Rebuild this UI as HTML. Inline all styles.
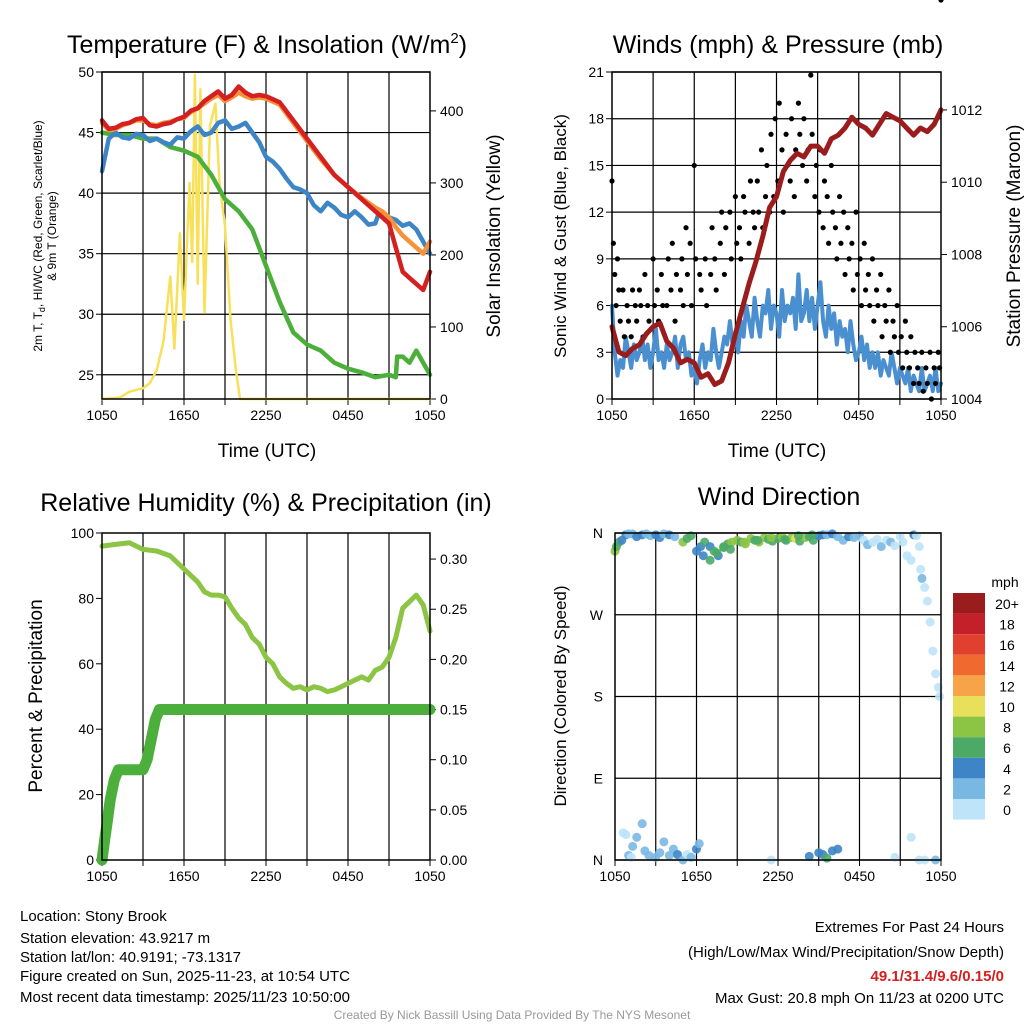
<!DOCTYPE html>
<html><head><meta charset="utf-8">
<style>
body{margin:0;background:#fff;}
svg{display:block;font-family:"Liberation Sans",sans-serif;}
</style></head>
<body>
<svg id="c" width="1024" height="1024" viewBox="0 0 1024 1024" xmlns="http://www.w3.org/2000/svg">
<rect width="1024" height="1024" fill="#fff"/>
<g id="g"></g>
<text x="267" y="53" font-size="25" text-anchor="middle">Temperature (F) &amp; Insolation (W/m<tspan font-size="15" dy="-10">2</tspan><tspan dy="10">)</tspan></text>
<text x="778" y="53" font-size="25" text-anchor="middle">Winds (mph) &amp; Pressure (mb)</text>
<text x="266" y="511" font-size="25" text-anchor="middle">Relative Humidity (%) &amp; Precipitation (in)</text>
<text x="779" y="505" font-size="25" text-anchor="middle">Wind Direction</text>
<text x="267" y="457" font-size="19" text-anchor="middle">Time (UTC)</text>
<text x="777" y="457" font-size="19" text-anchor="middle">Time (UTC)</text>
<text transform="translate(42,236) rotate(-90)" font-size="12" text-anchor="middle">2m T, T<tspan font-size="9" dy="3">d</tspan><tspan dy="-3">, HI/WC (Red, Green, Scarlet/Blue)</tspan></text>
<text transform="translate(56,236) rotate(-90)" font-size="12" text-anchor="middle">&amp; 9m T (Orange)</text>
<text transform="translate(500,236) rotate(-90)" font-size="19" text-anchor="middle">Solar Insolation (Yellow)</text>
<text transform="translate(566,236) rotate(-90)" font-size="17" text-anchor="middle">Sonic Wind &amp; Gust (Blue, Black)</text>
<text transform="translate(1020,236) rotate(-90)" font-size="19" text-anchor="middle">Station Pressure (Maroon)</text>
<text transform="translate(42,696) rotate(-90)" font-size="19" text-anchor="middle">Percent &amp; Precipitation</text>
<text transform="translate(566,696) rotate(-90)" font-size="17" text-anchor="middle">Direction (Colored By Speed)</text>
<text x="1005" y="587" font-size="14" text-anchor="middle">mph</text>
<g font-size="15">
<text x="20" y="921">Location: Stony Brook</text>
<text x="20" y="943">Station elevation: 43.9217 m</text>
<text x="20" y="962">Station lat/lon: 40.9191; -73.1317</text>
<text x="20" y="981">Figure created on Sun, 2025-11-23, at 10:54 UTC</text>
<text x="20" y="1002">Most recent data timestamp: 2025/11/23 10:50:00</text>
</g>
<g font-size="15" text-anchor="end">
<text x="1004" y="932">Extremes For Past 24 Hours</text>
<text x="1004" y="957">(High/Low/Max Wind/Precipitation/Snow Depth)</text>
<text x="1004" y="981" fill="#d42020" font-weight="bold">49.1/31.4/9.6/0.15/0</text>
<text x="1004" y="1003">Max Gust: 20.8 mph On 11/23 at 0200 UTC</text>
</g>
<text x="512" y="1019" font-size="12" fill="#999" text-anchor="middle">Created By Nick Bassill Using Data Provided By The NYS Mesonet</text>
</svg>
<script>
// ---- data (hours since 1050 UTC) ----
const xTickLabels = ["1050","1650","2250","0450","1050"];
const tempTicks = [25,30,35,40,45,50];
const insolTicks = [0,100,200,300,400];
const windTicks = [0,3,6,9,12,15,18,21];
const presTicks = [1004,1006,1008,1010,1012];
const rhTicks = [0,20,40,60,80,100];
const precipTicks = [0,0.05,0.10,0.15,0.20,0.25,0.30];
const dirLabels = ["N","E","S","W","N"];
const tempHours = [0,0.5,1,1.5,2,2.5,3,3.5,4,4.5,5,5.5,6,6.5,7,7.5,8,8.5,9,9.5,10,10.5,11,11.5,12,13,14,15,16,17,18,19,20,20.5,21,21.5,22,22.5,23,23.5,24];
const tempRed = [46,45.3,45.4,45.7,45.8,46.1,46.2,45.6,45.5,45.7,45.8,46.1,46.3,46.8,47,47.6,48,48.4,47.8,48.1,48.8,48.3,48,48.1,48,47.5,46,44.5,43,41.5,40.5,39.5,38.5,38,37.5,35.5,33.5,33,32.5,32,33.5];
const tempOrange = [45.8,45.2,45.3,45.6,45.8,46,46,45.7,45.6,45.8,45.9,46.1,46.2,46.7,47,47.4,47.8,48.1,47.6,47.9,48.3,48,47.8,47.9,47.8,47.3,45.8,44.3,42.8,41.5,40.5,39.6,38.8,38.5,38,37.2,36.5,36,35.5,35,36];
const blueHours = [0,0.5,1,1.5,2,2.5,3,3.5,4,4.5,5,5.5,6,6.5,7,7.5,8,8.5,9,9.5,10,10.5,11,11.5,12,12.5,13,13.5,14,14.5,15,15.5,16,16.5,17,17.5,18,18.5,19,19.5,20,20.3,20.6,21,21.5,22,22.5,23,23.5,24];
const tempBlue = [41.8,44.5,45,44.6,44.5,44.9,44.8,44.3,44.5,44.2,44,44.6,44.5,45.1,45.5,44.8,45,45.8,46,45.3,45.5,45.8,45,44.2,43,42.6,42,41.2,40.5,40.3,40,39,38.5,39.2,38.8,38.2,38,38.5,38,37.4,37.5,38.5,38,38,37.8,37.3,37.5,37,36,35];
const dewHours = [0,1,2,3,4,5,6,7,8,9,10,11,12,13,14,15,16,17,18,19,20,21,21.5,21.6,22,22.5,23,23.5,24];
const dewGreen = [45,44.8,44.8,44.5,44.5,43.8,43.5,43,41.5,39.5,38.5,37,34,31,28.5,27.5,27,26,25.5,25.2,24.8,25,24.8,26.5,26.5,26,27,26,25];
const insolHours = [0,1.3,2,3,3.5,4,4.5,5,5.3,5.7,6,6.4,6.6,6.8,7.0,7.2,7.5,7.9,8.3,8.6,9,9.4,9.8,10.1,24];
const insolValues = [0,2,10,15,22,40,80,170,70,230,110,300,190,450,160,430,120,380,410,300,240,110,40,0,0];
const windHours = [0,0.2,0.4,0.6,0.8,1,1.2,1.4,1.6,1.8,2,2.2,2.4,2.6,2.8,3,3.2,3.4,3.6,3.8,4,4.2,4.4,4.6,4.8,5,5.2,5.4,5.6,5.8,6,6.2,6.4,6.6,6.8,7,7.2,7.4,7.6,7.8,8,8.2,8.4,8.6,8.8,9,9.2,9.4,9.6,9.8,10,10.2,10.4,10.6,10.8,11,11.2,11.4,11.6,11.8,12,12.2,12.4,12.6,12.8,13,13.2,13.4,13.6,13.8,14,14.2,14.4,14.6,14.8,15,15.2,15.4,15.6,15.8,16,16.2,16.4,16.6,16.8,17,17.2,17.4,17.6,17.8,18,18.2,18.4,18.6,18.8,19,19.2,19.4,19.6,19.8,20,20.2,20.4,20.6,20.8,21,21.2,21.4,21.6,21.8,22,22.2,22.4,22.6,22.8,23,23.2,23.4,23.6,23.8,24];
const windSpeed = [6,3,1.5,2.5,2,4,3,2,3.5,2.5,3,4,2.5,3.5,2,3,4.5,2.5,3,2,3.5,2.5,3,4,2,3.5,4,2.5,3,1.5,2,1,2.5,3.5,2,3,2.5,4.5,3,2,3,4,3.5,5,3.5,4,3,5,4,6,5,4,6.5,5,4,6,5.5,7,4.5,6,5.5,4,7,5,6,5.5,6.5,4.5,8,5,5.5,7,5,6.5,4.5,6,7.5,5,4,6,4.5,5.5,3.5,5,4,4.5,3,5,3.5,2.5,3,4,2.5,3.5,2,3,2,3,1.5,2.5,2,1.5,3,2,1,2,1.5,1,2,0.5,1.5,1,0.5,2,0.5,1,1.5,0.5,2,0.5,1,1.5];
const gustHours = [0,0.1,0.2,0.3,0.4,0.5,0.6,0.8,0.9,1.1,1.2,1.4,1.5,1.7,1.8,2,2.1,2.3,2.4,2.6,2.7,3,3.1,3.3,3.4,3.6,3.7,4,4.1,4.3,4.4,4.6,4.7,5,5.1,5.2,5.4,5.5,5.7,5.8,6,6.1,6.4,6.5,6.8,6.9,7.2,7.3,7.5,7.6,7.9,8,8.2,8.3,8.6,8.7,9,9.1,9.3,9.4,9.6,9.7,10,10.1,10.3,10.4,10.6,10.7,10.9,11,11.2,11.3,11.5,11.6,11.8,11.9,12.1,12.2,12.4,12.5,12.7,12.8,13,13.1,13.3,13.4,13.6,13.7,13.9,14,14.2,14.3,14.5,14.6,14.8,14.9,15.1,15.2,15.4,15.5,15.7,15.8,16,16.1,16.3,16.4,16.6,16.7,16.9,17,17.2,17.3,17.5,17.6,17.8,17.9,18.1,18.2,18.4,18.5,18.7,18.8,19,19.1,19.3,19.4,19.6,19.7,19.9,20,20.2,20.3,20.5,20.6,20.8,20.9,21.1,21.2,21.4,21.5,21.7,21.8,22,22.1,22.3,22.4,22.6,22.7,22.9,23,23.2,23.3,23.5,23.6,23.8,23.9,24];
const gustSpeed = [14,10,8,6,9,7,5,7,4,6,5,4,7,6,5,7,6,4,8,6,5,9,6,7,5,8,6,6,9,7,10,5,8,7,9,6,11,8,10,6,15,9,8,7,9,6,8,11,9,7,10,12,8,11,12,9,13,10,11,9,13,12,10,14,12,11,14,12,16,11,13,15,12,17,13,18,14,19,16,12,17,15,14,18,13,16,19,17,15,18,14,16,20.8,17,13,15,12,16,11,14,13,10,15,12,11,9,13,10,12,8,11,9,10,7,12,8,9,6,10,7,8,6,9,5,7,6,8,4,6,5,7,3,5,4,6,3,4,2,5,3,2,4,1,3,2,1,3,0.5,2,1,3,0,2,1,3,2];
const presHours = [0,0.5,1,1.5,2,2.5,3,3.5,4,4.5,5,5.5,6,6.5,7,7.5,8,8.5,9,9.5,10,10.5,11,11.5,12,12.5,13,13.5,14,14.5,15,15.5,16,16.5,17,17.5,18,18.5,19,19.5,20,20.5,21,21.5,22,22.5,23,23.5,24];
const pressure = [1006,1005.3,1005.2,1005.4,1005.5,1005.8,1006,1006.1,1005.6,1005.4,1005,1005.1,1005,1004.6,1004.7,1004.4,1004.5,1005,1005.8,1006.5,1007.2,1007.8,1008.5,1009.3,1009.6,1010.3,1010.6,1010.8,1010.7,1011,1011,1010.8,1011.2,1011.3,1011.5,1011.8,1011.6,1011.5,1011.3,1011.6,1011.9,1011.8,1011.7,1011.5,1011.3,1011.5,1011.4,1011.6,1012];
const rhHours = [0,1,2,3,4,5,6,7,7.5,8,8.5,9,9.5,10,10.5,11,11.5,12,12.5,13,13.5,14,14.5,15,15.5,16,16.5,17,17.5,18,18.5,19,19.5,20,20.5,21,21.5,22,22.5,23,23.5,24];
const rhValues = [96,96.5,97,95,94.5,93,89,85,82,81,81,80.5,77,74,72,68,66,62,60,56,54,52.5,53,52,53,52.5,51.5,52,53,54,55,56,55,58,59,62,68,77,79,81,78,70];
const precipHours = [0,0.2,0.4,0.6,0.9,1.2,2,3,3.3,3.6,3.9,4.2,24];
const precipValues = [0,0.02,0.04,0.06,0.08,0.09,0.09,0.09,0.10,0.12,0.14,0.15,0.15];
const dirHours = [0,0.1,0.3,0.5,0.8,1,1.3,1.6,2,2.3,2.6,3,3.3,3.6,4,4.4,5,5.3,5.6,6,6.3,6.6,7,7.3,7.6,8,8.3,8.6,9,9.3,9.6,10,10.3,10.6,11,11.3,11.6,12,12.3,12.6,13,13.3,13.6,14,14.3,14.6,15,15.3,15.6,16,16.4,16.8,17.2,17.6,18,18.3,18.6,19,19.3,19.6,20,20.3,20.6,21,21.2,21.5,21.8,22,22.2,22.4,22.5,22.6,22.8,23,23.2,23.4,23.6,23.8,23.9,
  1,1.3,1.6,2,2.2,2.5,3,3.3,3.6,4,4.3,4.6,5,5.3,5.6,6,6.2,1.2,0.8,0.6,14.3,15,15.3,15.6,16,16.4,20.6,21.8,22.4,22.8,23.6,11.5,
  6.5,7,7.5,8,8.5,9.5,10.5,11.5,12.5,13.5,14.5];
const dirDeg = [340,345,350,352,358,359,359,356,358,359,357,358,355,359,358,356,350,354,357,340,345,350,345,340,335,344,348,350,352,350,348,354,352,350,355,353,351,354,356,352,355,354,351,355,356,352,357,358,358,359,356,352,356,355,357,352,347,350,353,345,352,350,346,356,350,335,330,358,357,345,320,310,300,285,262,230,205,190,180,
  5,15,25,40,10,5,3,8,20,5,12,6,0,6,3,12,18,3,28,30,4,8,6,2,10,12,3,25,0,0,0,0,
  335,330,338,345,342,350,352,355,353,357,358];
const dirSpeed = [8,7,6,4,4,2,2,4,4,3,2,4,4,3,4,2,8,6,7,5,4,6,5,7,4,7,6,8,9,7,8,8,6,9,8,7,6,7,9,6,8,10,6,8,7,6,4,4,3,4,2,2,4,2,2,1,2,1,1,2,1,2,1,0,1,1,0,4,0,1,0,3,0,1,0,1,0,0,0,
  2,2,2,3,2,2,3,2,2,2,2,4,2,1,2,4,2,1,1,1,4,5,4,6,4,4,1,0,0,0,2,0,
  4,6,6,7,7,8,7,8,7,6,7];
const cbLabels = ["20+","18","16","14","12","10","8","6","4","2","0"];
const cbColors = ["#9b1c1c","#c4202a","#e2402e","#f06a30","#f7a449","#e8e05a","#8cc444","#4caa66","#3d85c6","#7ab8e4","#bde4f8"];

const NS="http://www.w3.org/2000/svg";
const G=document.getElementById('g');
function mk(tag,attrs,parent){const e=document.createElementNS(NS,tag);for(const k in attrs)e.setAttribute(k,attrs[k]);(parent||G).appendChild(e);return e;}
function scale(d0,d1,r0,r1){return v=>r0+(v-d0)/(d1-d0)*(r1-r0);}
function path(xs,ys,sx,sy){return xs.map((h,i)=>(i?'L':'M')+sx(h).toFixed(1)+','+sy(ys[i]).toFixed(1)).join('');}

const panels=[
 {x0:102,x1:430,y0:72,y1:399},{x0:612,x1:941,y0:72,y1:399},
 {x0:102,x1:430,y0:533,y1:860},{x0:615,x1:941,y0:533,y1:860}];
panels.forEach((p,pi)=>{
  const sx=scale(0,24,p.x0,p.x1);
  for(let h=3;h<24;h+=3){const l=mk('line',{x1:sx(h),x2:sx(h),y1:p.y0,y2:p.y1,stroke:'#000','stroke-width':1.2});
    
    }
  for(let h=0;h<=24;h+=3){mk('line',{x1:sx(h),x2:sx(h),y1:p.y1,y2:p.y1+6,stroke:'#000'});}
  xTickLabels.forEach((t,i)=>{const tx=mk('text',{x:sx(i*6),y:p.y1+21,'font-size':14,'text-anchor':'middle'});tx.textContent=t;
    
    });
});
function yTicks(p,ticks,sy,side,fmt,grid){
  ticks.forEach(v=>{const y=sy(v);
    if(grid){const l=mk('line',{x1:p.x0,x2:p.x1,y1:y,y2:y,stroke:'#000','stroke-width':1.2});
      
      }
    const x=side<0?p.x0:p.x1;
    mk('line',{x1:x,x2:x+side*6,y1:y,y2:y,stroke:'#000'});
    const t=mk('text',{x:side<0?p.x0-8:p.x1+10,y:y+5,'font-size':14,'text-anchor':side<0?'end':'start'});t.textContent=fmt(v);
    
    });
}
function line(xs,ys,sx,sy,color,w,name){const e=mk('path',{d:path(xs,ys,sx,sy),fill:'none',stroke:color,'stroke-width':w,'stroke-linejoin':'round','stroke-linecap':'round'});
  
  return e;}

// Panel 1
{const p=panels[0],sx=scale(0,24,p.x0,p.x1),sy=scale(23,50,p.y1,p.y0),sr=scale(0,454,p.y1,p.y0);
 yTicks(p,tempTicks,sy,-1,v=>v,true);yTicks(p,insolTicks,sr,1,v=>v,false);
 line(insolHours,insolValues,sx,sr,'#f7e05a',2.5,'insolation-line');
 line(dewHours,dewGreen,sx,sy,'#4caf3c',4.5,'dewpoint-line');
 line(blueHours,tempBlue,sx,sy,'#3d85c6',4.5,'windchill-line');
 line(tempHours,tempOrange,sx,sy,'#f7923a',4.5,'temp-9m-line');
 line(tempHours,tempRed,sx,sy,'#d42020',4.5,'temp-2m-line');}
// Panel 2
{const p=panels[1],sx=scale(0,24,p.x0,p.x1),sy=scale(0,21,p.y1,p.y0),sp=scale(1004,1013.05,p.y1,p.y0);
 yTicks(p,windTicks,sy,-1,v=>v,true);yTicks(p,presTicks,sp,1,v=>v,false);
 line(windHours,windSpeed,sx,sy,'#4a90d0',4,'wind-speed-line');
 gustHours.forEach((h,i)=>{const c=mk('circle',{cx:sx(h),cy:sy(gustSpeed[i]),r:2.6,fill:'#000'});
   
   });
 line(presHours,pressure,sx,sp,'#9b1c1c',5,'pressure-line');}
// Panel 3
{const p=panels[2],sx=scale(0,24,p.x0,p.x1),sy=scale(0,100,p.y1,p.y0),sq=scale(0,0.326,p.y1,p.y0);
 yTicks(p,rhTicks,sy,-1,v=>v,false);yTicks(p,precipTicks,sq,1,v=>v.toFixed(2),false);
 line(rhHours,rhValues,sx,sy,'#8cc444',5,'rh-line');
 line(precipHours,precipValues,sx,sq,'#4caf3c',11,'precip-line');}
// Panel 4
{const p=panels[3],sx=scale(0,24,p.x0,p.x1),sy=scale(0,360,p.y1,p.y0);
 dirLabels.forEach((l,i)=>{const y=sy(i*90);
   const g=mk('line',{x1:p.x0,x2:p.x1,y1:y,y2:y,stroke:'#000','stroke-width':1.2});
   
   
   const t=mk('text',{x:p.x0-12,y:y+5,'font-size':14,'text-anchor':'end'});t.textContent=l;
   
   });
 dirHours.forEach((h,i)=>{const k=Math.max(0,Math.min(10,10-Math.floor(dirSpeed[i]/2)));
   const c=mk('circle',{cx:sx(h),cy:sy(dirDeg[i]),r:4.5,fill:cbColors[k],'fill-opacity':0.9});
   
   });
 cbColors.forEach((col,i)=>{const r=mk('rect',{x:953,y:593+i*20.6,width:32,height:20.6,fill:col});
   
   
   const t=mk('text',{x:1007,y:609+i*20.6,'font-size':14,'text-anchor':'middle'});t.textContent=cbLabels[i];
   
   });}
panels.forEach(p=>{const r=mk('rect',{x:p.x0,y:p.y0,width:p.x1-p.x0,height:p.y1-p.y0,fill:'none',stroke:'#000','stroke-width':1.5});
  
  });
</script>
</body></html>
